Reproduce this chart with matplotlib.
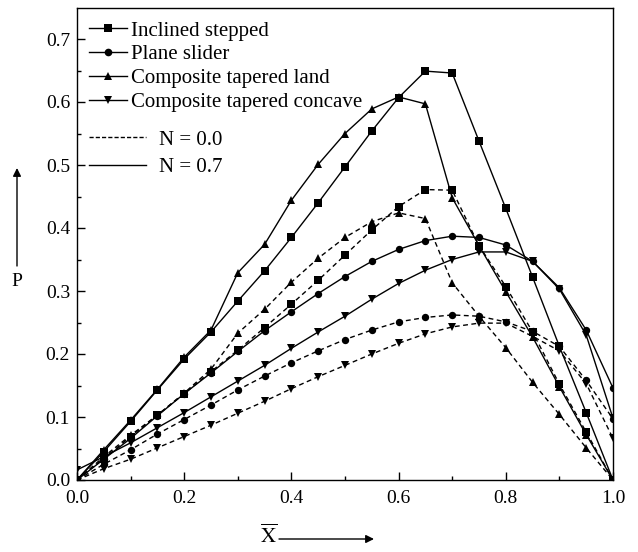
import matplotlib
matplotlib.use("Agg")
import matplotlib.pyplot as plt
from matplotlib.lines import Line2D

plt.rcParams['font.family'] = ['Liberation Serif', 'DejaVu Serif']
plt.rcParams['mathtext.fontset'] = 'stix'

x = [0.0, 0.05, 0.1, 0.15, 0.2, 0.25, 0.3, 0.35, 0.4, 0.45, 0.5,
     0.55, 0.6, 0.65, 0.7, 0.75, 0.8, 0.85, 0.9, 0.95, 1.0]

# N = 0.7 (solid)
stepped_07 = [0.0, 0.045, 0.093, 0.143, 0.192, 0.235, 0.284, 0.332, 0.385, 0.440, 0.497,
              0.554, 0.607, 0.649, 0.646, 0.538, 0.431, 0.322, 0.212, 0.107, 0.0]
plane_07 = [0.0, 0.033, 0.066, 0.102, 0.137, 0.170, 0.204, 0.237, 0.267, 0.296, 0.323,
            0.347, 0.366, 0.380, 0.387, 0.385, 0.373, 0.347, 0.305, 0.238, 0.146]
land_07 = [0.0, 0.048, 0.095, 0.144, 0.195, 0.238, 0.329, 0.374, 0.444, 0.501, 0.550,
           0.589, 0.608, 0.597, 0.448, 0.372, 0.299, 0.227, 0.148, 0.072, 0.0]
concave_07 = [0.016, 0.037, 0.059, 0.083, 0.107, 0.132, 0.157, 0.182, 0.209, 0.235, 0.260,
              0.287, 0.312, 0.333, 0.350, 0.362, 0.362, 0.347, 0.303, 0.230, 0.098]

# N = 0.0 (dashed)
stepped_00 = [0.0, 0.034, 0.069, 0.103, 0.137, 0.172, 0.206, 0.242, 0.279, 0.317, 0.357,
              0.397, 0.434, 0.461, 0.460, 0.372, 0.307, 0.235, 0.152, 0.076, 0.0]
plane_00 = [0.0, 0.025, 0.048, 0.073, 0.096, 0.119, 0.143, 0.165, 0.186, 0.205, 0.223,
            0.238, 0.251, 0.258, 0.262, 0.260, 0.251, 0.236, 0.212, 0.158, 0.097]
land_00 = [0.0, 0.037, 0.071, 0.103, 0.138, 0.176, 0.233, 0.271, 0.314, 0.352, 0.385,
           0.410, 0.424, 0.415, 0.313, 0.260, 0.210, 0.155, 0.104, 0.051, 0.0]
concave_00 = [0.0, 0.018, 0.033, 0.051, 0.069, 0.087, 0.106, 0.125, 0.145, 0.164, 0.182,
              0.200, 0.217, 0.232, 0.243, 0.249, 0.249, 0.228, 0.205, 0.153, 0.066]

series_labels = ['Inclined stepped', 'Plane slider',
                 'Composite tapered land', 'Composite tapered concave']
markers = ['s', 'o', '^', 'v']
n_labels = ['N = 0.0', 'N = 0.7']

xticks = [0.0, 0.2, 0.4, 0.6, 0.8, 1.0]
yticks = [0.0, 0.1, 0.2, 0.3, 0.4, 0.5, 0.6, 0.7]

W, H = 638, 552
fig = plt.figure(figsize=(W / 100, H / 100), dpi=100)
ax = fig.add_axes([77 / W, (H - 480) / H, (613 - 77) / W, (480 - 7.5) / H])

solid = [stepped_07, plane_07, land_07, concave_07]
dashed = [stepped_00, plane_00, land_00, concave_00]
ms = 5.3
for ys, m in zip(dashed, markers):
    ax.plot(x, ys, ls=(0, (3.5, 2.5)), color='black', lw=1.0, marker=m, ms=ms,
            markeredgewidth=0)
for ys, m in zip(solid, markers):
    ax.plot(x, ys, ls='-', color='black', lw=1.0, marker=m, ms=ms,
            markeredgewidth=0)

ax.set_xlim(0, 1.0)
ax.set_ylim(0, 0.75)
ax.set_xticks(xticks)
ax.set_xticklabels([f'{v:.1f}' for v in xticks])
ax.set_yticks(yticks)
ax.set_yticklabels([f'{v:.1f}' for v in yticks])
ax.set_xticks([0.1, 0.3, 0.5, 0.7, 0.9], minor=True)
ax.set_yticks([0.05, 0.15, 0.25, 0.35, 0.45, 0.55, 0.65], minor=True)
ax.tick_params(which='both', direction='in', labelsize=14, top=False, right=False,
               width=1.0, color='black')
ax.tick_params(which='major', length=6, pad=5)
ax.tick_params(axis='x', which='major', pad=7)
ax.tick_params(which='minor', length=3)
for s in ax.spines.values():
    s.set_linewidth(1.0)

# legends
h1 = [Line2D([], [], color='black', lw=1.0, marker=m, ms=5.5, markeredgewidth=0)
      for m in markers]
leg1 = ax.legend(h1, series_labels, loc='upper left', bbox_to_anchor=(0.018, 0.976),
                 frameon=False, fontsize=15, handlelength=1.83, handletextpad=0.19,
                 labelspacing=0.21, borderaxespad=0, borderpad=0.1)
ax.add_artist(leg1)
h2 = [Line2D([], [], color='black', lw=1.0, ls=(0, (3, 1.5))),
      Line2D([], [], color='black', lw=1.0, ls='-')]
ax.legend(h2, n_labels, loc='upper left', bbox_to_anchor=(0.018, 0.745),
          frameon=False, fontsize=15, handlelength=2.74, handletextpad=0.63,
          labelspacing=0.38, borderaxespad=0, borderpad=0.1)

# axis labels with arrows
fig.text(17 / W, (H - 281) / H, 'P', fontsize=14, ha='center', va='center')
ax.annotate('', xy=(17, H - 168), xycoords='figure pixels',
            xytext=(17, H - 266), textcoords='figure pixels',
            arrowprops=dict(arrowstyle='-|>', color='black', lw=1.0,
                            mutation_scale=12, shrinkA=0, shrinkB=0))
fig.text(269 / W, (H - 536) / H, r'$\overline{\mathrm{X}}$', fontsize=15,
         ha='center', va='center')
ax.annotate('', xy=(374, H - 539), xycoords='figure pixels',
            xytext=(279, H - 539), textcoords='figure pixels',
            arrowprops=dict(arrowstyle='-|>', color='black', lw=1.0,
                            mutation_scale=12, shrinkA=0, shrinkB=0))

fig.savefig('out.png', dpi=100)
